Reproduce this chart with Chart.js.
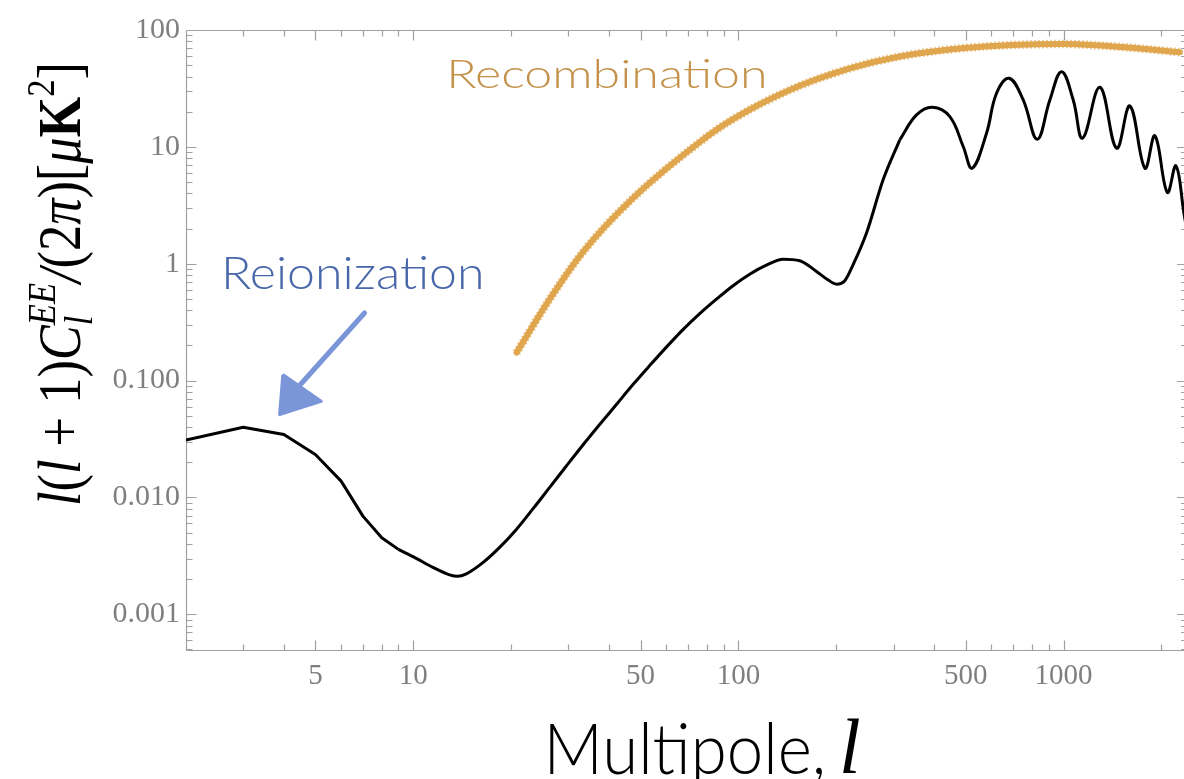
<!DOCTYPE html>
<html><head><meta charset="utf-8">
<script src="https://cdn.jsdelivr.net/npm/chart.js@4.4.1/dist/chart.umd.min.js"></script>
<style>html,body{margin:0;padding:0;background:#fff;overflow:hidden}canvas{display:block}</style>
</head><body><canvas id="c" width="1184" height="779"></canvas>
<script>
// ---- data ----
// low multipoles: straight segments between integer l
const eeLowL = [2,3,4,5,6,7,8,9];
const eeLowValues = [0.031,0.0399,0.0345,0.0233,0.0138,0.00692,0.00452,0.003594];
// reionization dip and rise towards the first acoustic peak
const eeRiseL = [9,10.21,11.49,12.93,13.69,14.56,16.37,18.43,20.75,23.33,26.27,29.57,33.25,37.43,42.13,47.39,53.34,60.04,67.53,76.03,85.57,96.26,108.3,121.9,137.2,154.4,173.8,188.3,200.3,212.4,225.3,247.7,278.6,313.5];
const eeRiseValues = [0.003594,0.003011,0.002522,0.002176,0.002112,0.002219,0.002767,0.003737,0.005326,0.007976,0.01218,0.01859,0.0281,0.04206,0.06233,0.09243,0.1343,0.1933,0.2729,0.3737,0.4971,0.6486,0.8132,0.9709,1.093,1.061,0.8594,0.7299,0.668,0.7157,0.9805,1.829,5.224,11.48];
// acoustic oscillations
const eeOscL = [313.5,352.9,395.3,446.9,491.2,523.5,579.4,622,680.4,751.3,829.6,907.4,985.7,1070.7,1144,1293.4,1455.6,1599.6,1779,1909.6,2084,2216,2345,2420];
const eeOscValues = [11.48,18.77,21.84,18.16,10.07,6.57,13.09,28.75,38.6,25.2,11.63,25.2,44.0,25.2,11.86,32.36,9.74,22.4,6.57,12.42,4.07,6.88,2.71,1.6];

const recombL = [20.78,26.27,33.19,47.3,76.0,94.0,143.8,220.0,313.5,497,995,1293,1717,2279];
const recombValues = [0.1735,0.497,1.251,3.62,10.97,16.59,30.64,46.88,59.36,70.2,75.9,73.7,69.5,64.5];

const arrowShaftL = [7.08,4.31];
const arrowShaftValues = [0.379,0.081];
const arrowHeadL = [3.97,5.21,3.88,3.97];
const arrowHeadValues = [0.1126,0.0665,0.0512,0.1126];

const xTickValues = [5,10,50,100,500,1000];
const xTickLabels = ['5','10','50','100','500','1000'];
const yTickValues = [0.001,0.01,0.1,1,10,100];
const yTickLabels = ['0.001','0.010','0.100','1','10','100'];

const annotationTexts = ['Recombination','Reionization'];
const annotationL = [13.1,2.645];
const annotationValues = [31.7,0.608];

const xMin = 2, xMax = 2346, yMin = 0.000495, yMax = 100;

// ---- helpers ----
const pts = (xs, ys) => xs.map((v,i)=>({x:v,y:ys[i]}));

function drawFitted(ctx, text, font, x, y, targetW, color){
  ctx.save();
  ctx.font = font;
  const m = ctx.measureText(text);
  const ink = m.actualBoundingBoxLeft + m.actualBoundingBoxRight;
  const s = targetW / ink;
  ctx.translate(x, y); ctx.scale(s, 1);
  ctx.fillStyle = color; ctx.textAlign = 'left'; ctx.textBaseline = 'alphabetic';
  ctx.fillText(text, m.actualBoundingBoxLeft, 0);
  ctx.restore();
}

const SERIF = '"Liberation Serif", "DejaVu Serif", serif';
const yTitleParts = [
  {t:'l', st:'italic'}, {t:'('}, {t:'l', st:'italic'}, {t:' + '}, {t:'1'}, {t:')'}, {t:'C', st:'italic'},
  {stack:[{t:'EE', st:'italic', k:0.66, dy:-0.40},{t:'l', st:'italic', k:0.66, dy:0.20}]},
  {t:'/', st:'italic'}, {t:'('}, {t:'2'}, {t:'π', st:'italic'}, {t:')'}, {t:'['}, {t:'μ', st:'italic'},
  {t:'K', st:'bold'}, {t:'2', k:0.66, dy:-0.42}, {t:']'}
];

function partFont(p, size){ return (p.st ? p.st + ' ' : '') + Math.round(size*(p.k||1)) + 'px ' + SERIF; }

function drawYTitle(ctx){
  const size = 62;
  ctx.save();
  let total = 0;
  const widths = yTitleParts.map(p=>{
    let w;
    if (p.stack){ w = Math.max(...p.stack.map(q=>{ctx.font = partFont(q,size); return ctx.measureText(q.t).width;})); }
    else { ctx.font = partFont(p,size); w = ctx.measureText(p.t).width; }
    total += w; return w;
  });
  const target = 444;
  ctx.translate(80, 506);
  ctx.rotate(-Math.PI/2);
  ctx.scale(target/total, 1);
  ctx.fillStyle = '#000'; ctx.textBaseline = 'alphabetic'; ctx.textAlign = 'left';
  let x = 0;
  yTitleParts.forEach((p,i)=>{
    const items = p.stack ? p.stack : [p];
    items.forEach(q=>{ ctx.font = partFont(q,size); ctx.fillText(q.t, x, (q.dy||0)*size); });
    x += widths[i];
  });
  ctx.restore();
}

const framePlugin = {
  id: 'frame',
  beforeDatasetsDraw(chart){
    const {ctx, chartArea:a, scales:{x, y}} = chart;
    const L = Math.round(a.left)+0.5, T = Math.round(a.top)+0.5, B = Math.round(a.bottom)+0.5, R = a.right + 3;
    ctx.save();
    ctx.strokeStyle = '#a0a0a0'; ctx.lineWidth = 1.2;
    ctx.beginPath();
    ctx.moveTo(L, B); ctx.lineTo(R, B);
    ctx.moveTo(L, T); ctx.lineTo(R, T);
    ctx.moveTo(L, T); ctx.lineTo(L, B);
    for (let d = 0; d < 4; d++) for (let m = 1; m < 10; m++) {
      const v = m * Math.pow(10, d);
      if (v < x.min || v > x.max) continue;
      const px = Math.round(x.getPixelForValue(v)) + 0.5;
      const len = (m === 1 || m === 5) ? 10 : 6;
      ctx.moveTo(px, B); ctx.lineTo(px, B - len);
      ctx.moveTo(px, T); ctx.lineTo(px, T + len);
    }
    for (let d = -4; d < 3; d++) for (let m = 1; m < 10; m++) {
      const v = m * Math.pow(10, d);
      if (v < y.min || v > y.max * 1.0001) continue;
      const py = Math.round(y.getPixelForValue(v)) + 0.5;
      const len = (m === 1) ? 10 : 6;
      ctx.moveTo(L, py); ctx.lineTo(L + len, py);
      ctx.moveTo(R, py); ctx.lineTo(R - len, py);
    }
    ctx.stroke();
    ctx.restore();
  },
  afterDraw(chart){
    const {ctx, scales:{x, y}} = chart;
    drawFitted(ctx, annotationTexts[0], '300 39px Lato, "Open Sans", sans-serif',
      x.getPixelForValue(annotationL[0]), y.getPixelForValue(annotationValues[0]), 313, '#C4924A');
    drawFitted(ctx, annotationTexts[1], '300 45px Lato, "Open Sans", sans-serif',
      x.getPixelForValue(annotationL[1]), y.getPixelForValue(annotationValues[1]), 256, '#4767AA');
    drawFitted(ctx, 'Multipole,', '300 70px Lato, "Open Sans", sans-serif', 550, 774, 272, '#000');
    ctx.save();
    ctx.font = 'italic 78px ' + SERIF; ctx.fillStyle = '#000';
    ctx.textBaseline = 'alphabetic'; ctx.textAlign = 'left';
    const m = ctx.measureText('l');
    ctx.fillText('l', 843 + m.actualBoundingBoxLeft, 773);
    ctx.restore();
    drawYTitle(ctx);
  }
};

function make(){
  new Chart(document.getElementById('c'), {
    type: 'line',
    data: {
      datasets: [
        {data: pts(recombL, recombValues), borderColor:'#E0A64E', borderWidth:6, pointRadius:0,
         cubicInterpolationMode:'monotone', borderCapStyle:'round', fill:false},
        {data: pts(recombL, recombValues), borderColor:'rgba(224,166,78,0.75)', borderWidth:8.5, pointRadius:0,
         cubicInterpolationMode:'monotone', borderDash:[1.5,2.5], fill:false},
        {data: pts(eeLowL, eeLowValues), borderColor:'#000', borderWidth:3, pointRadius:0,
         tension:0, borderJoinStyle:'round', fill:false},
        {data: pts(eeRiseL, eeRiseValues), borderColor:'#000', borderWidth:3, pointRadius:0,
         cubicInterpolationMode:'monotone', borderJoinStyle:'round', fill:false},
        {data: pts(eeOscL, eeOscValues), borderColor:'#000', borderWidth:3, pointRadius:0,
         tension:0.4, borderJoinStyle:'round', fill:false},
        {data: pts(arrowShaftL, arrowShaftValues), borderColor:'#7B96D8', borderWidth:5, pointRadius:0,
         borderCapStyle:'round', fill:false},
        {data: pts(arrowHeadL, arrowHeadValues), borderColor:'#7B96D8', backgroundColor:'#7B96D8',
         borderWidth:3, pointRadius:0, fill:'shape', borderJoinStyle:'round'}
      ]
    },
    options: {
      responsive: false, animation: false,
      layout: {padding: {top: 30, left: 0, right: 0, bottom: 0}},
      plugins: {legend: {display:false}, tooltip: {enabled:false}, title:{display:false}},
      scales: {
        x: {
          type: 'logarithmic', min: xMin, max: xMax, position: 'bottom',
          afterFit(s){ s.height = 129; },
          afterBuildTicks(s){ s.ticks = xTickValues.map(v=>({value:v})); },
          ticks: {callback:(v,i)=>xTickLabels[i], color:'#7f7f7f', padding:9, maxRotation:0, autoSkip:false,
                  font:{family:'"Liberation Serif", serif', size:29}},
          grid: {display:false, drawTicks:false},
          border: {display:false}
        },
        y: {
          type: 'logarithmic', min: yMin, max: yMax,
          afterFit(s){ s.width = 186; },
          afterBuildTicks(s){ s.ticks = yTickValues.map(v=>({value:v})); },
          ticks: {callback:(v,i)=>yTickLabels[i], color:'#7f7f7f', padding:6, autoSkip:false,
                  font:{family:'"Liberation Serif", serif', size:30}},
          grid: {display:false, drawTicks:false},
          border: {display:false}
        }
      }
    },
    plugins: [framePlugin]
  });
}
Promise.all([
  document.fonts.load('300 40px Lato'), document.fonts.load('italic 40px "Liberation Serif"'),
  document.fonts.load('40px "Liberation Serif"'), document.fonts.load('bold 40px "Liberation Serif"')
]).then(make, make);
</script></body></html>
